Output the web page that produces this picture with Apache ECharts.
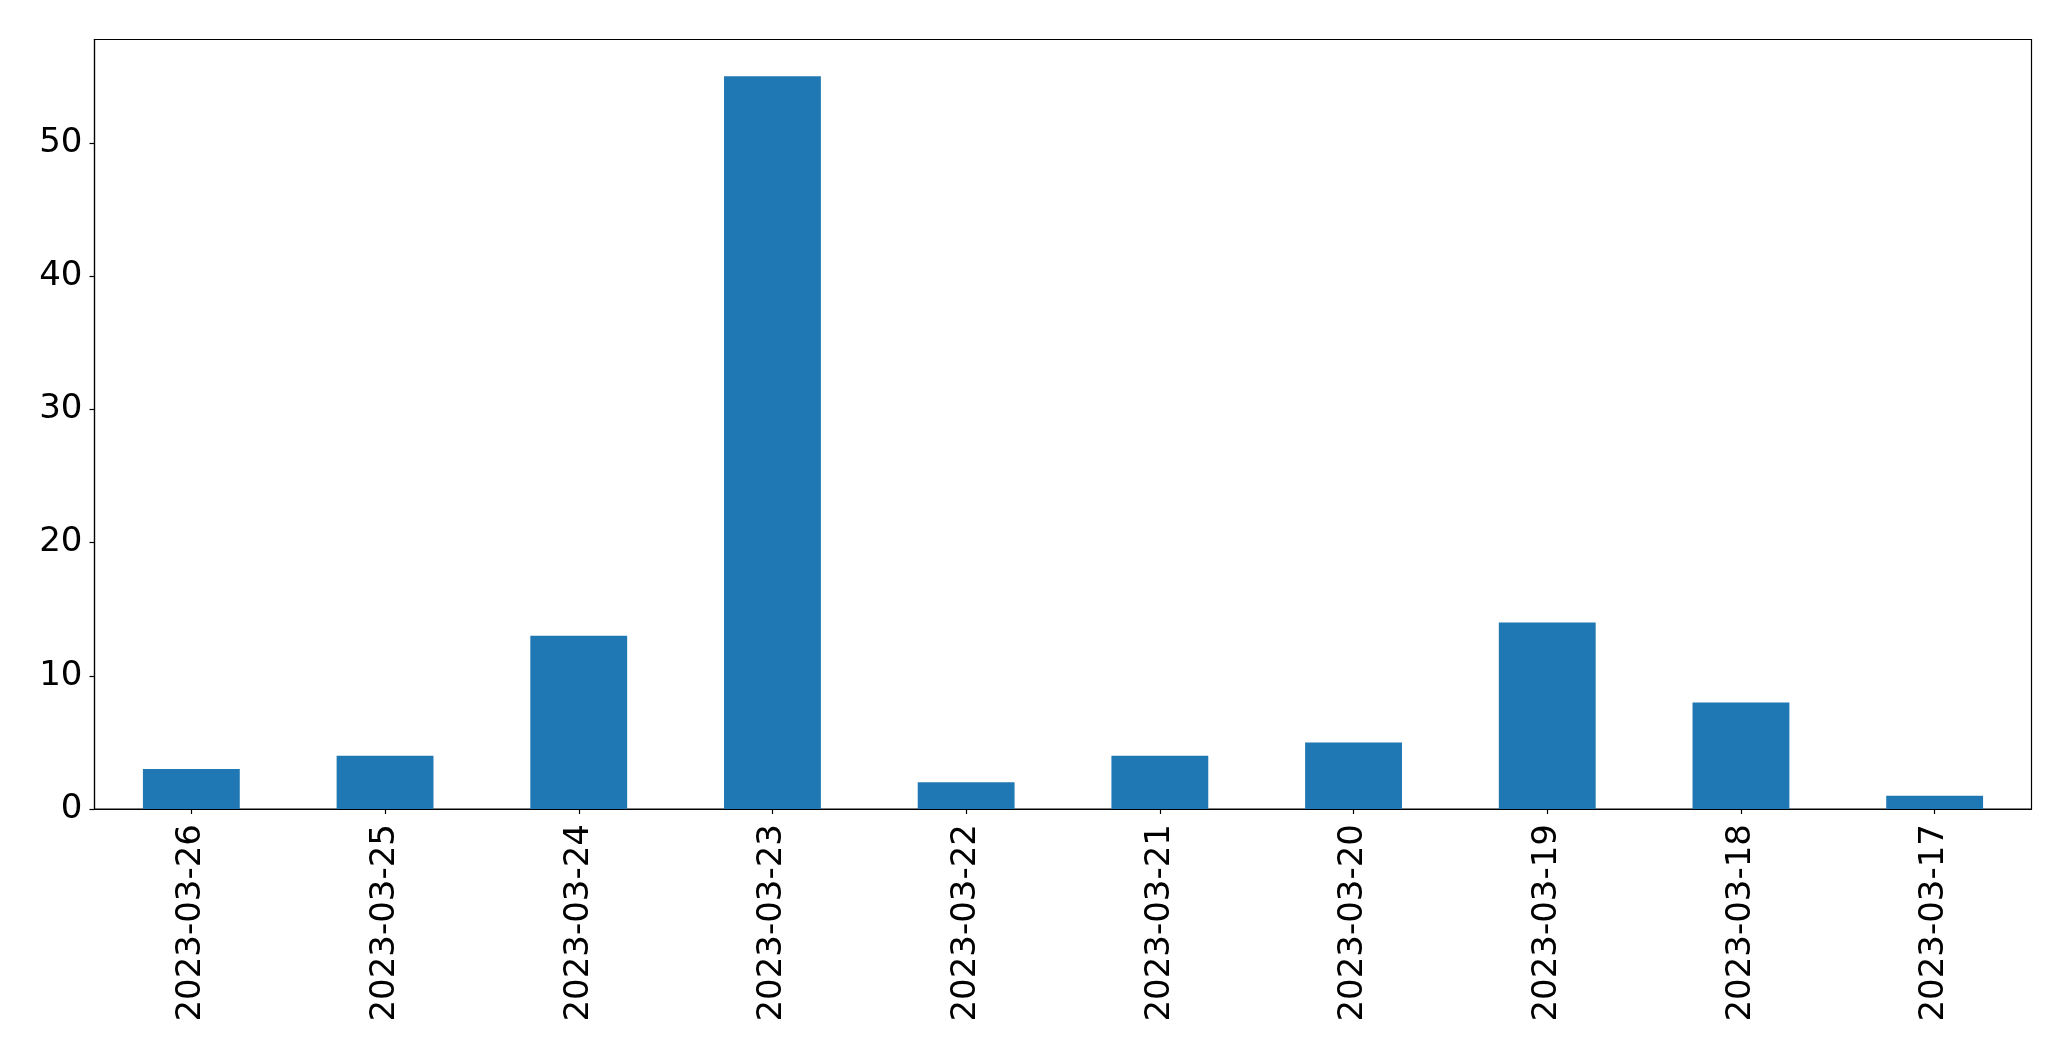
<!DOCTYPE html>
<html>
<head>
<meta charset="utf-8">
<script src="https://cdn.jsdelivr.net/npm/echarts@6/dist/echarts.min.js"></script>
<style>
html,body{margin:0;padding:0;background:#fff;}
#chart{width:2071px;height:1061px;}
</style>
</head>
<body>
<div id="chart"></div>
<script>
const categories = ["2023-03-26","2023-03-25","2023-03-24","2023-03-23","2023-03-22","2023-03-21","2023-03-20","2023-03-19","2023-03-18","2023-03-17"];
const values = [3, 4, 13, 55, 2, 4, 5, 14, 8, 1];
const yMax = 57.75;

const chart = echarts.init(document.getElementById('chart'), null, {renderer: 'canvas'});
const font = 'DejaVu Sans';
chart.setOption({
  animation: false,
  backgroundColor: '#ffffff',
  grid: {left: 94.5, right: 39.5, top: 39.5, bottom: 252, show: true, borderColor: '#000', borderWidth: 1.2, backgroundColor: 'transparent'},
  xAxis: {
    type: 'category',
    data: categories,
    axisLine: {show: true, lineStyle: {color: '#000', width: 1.2}},
    axisTick: {show: true, alignWithLabel: true, length: 5, lineStyle: {color: '#000', width: 1.2}},
    axisLabel: {rotate: 90, fontFamily: font, fontSize: 34, color: '#000', margin: 15, interval: 0},
    splitLine: {show: false}
  },
  yAxis: {
    type: 'value',
    min: 0,
    max: yMax,
    interval: 10,
    axisLine: {show: true, lineStyle: {color: '#000', width: 1.2}},
    axisTick: {show: true, length: 5, lineStyle: {color: '#000', width: 1.2}},
    axisLabel: {fontFamily: font, fontSize: 34, color: '#000', margin: 12, showMaxLabel: false},
    splitLine: {show: false}
  },
  series: [{
    type: 'bar',
    data: values,
    barWidth: '50%',
    itemStyle: {color: '#1f77b4'}
  }]
});
</script>
</body>
</html>
